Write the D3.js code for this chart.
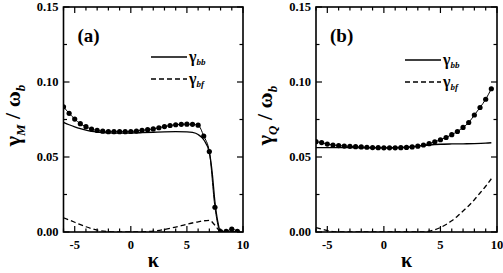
<!DOCTYPE html>
<html>
<head>
<meta charset="utf-8">
<script src="https://cdn.jsdelivr.net/npm/d3@7"></script>
<style>
  body { margin: 0; background: #fff; }
  svg { display: block; }
  svg text { font-family: "Liberation Serif", "Times New Roman", Times, serif; font-weight: bold; }
</style>
</head>
<body>
<svg id="chart" width="503" height="273"></svg>
<script>
// kappa values of the dotted series (step 0.5)
const kappaDots = [-6, -5.5, -5, -4.5, -4, -3.5, -3, -2.5, -2, -1.5, -1, -0.5, 0, 0.5, 1, 1.5,
  2, 2.5, 3, 3.5, 4, 4.5, 5, 5.5, 6, 6.5, 7, 7.5, 8, 8.5, 9, 9.5];

// panel (a): gamma_M / omega_b
const dotsA = [0.0835, 0.0791, 0.0753, 0.0722, 0.0702, 0.0686, 0.0677, 0.0672, 0.0669, 0.0669,
  0.0669, 0.0669, 0.0670, 0.0673, 0.0678, 0.0682, 0.0687, 0.0695, 0.0703, 0.0710, 0.0715,
  0.0718, 0.0719, 0.0718, 0.0712, 0.0640, 0.0536, 0.0165, 0.0003, 0.0005, 0.0020, 0.0005];
const bbKappaA = [-6, -5.5, -5, -4.5, -4, -3.5, -3, -2, -1, 0, 1, 2, 3, 4, 5, 5.5, 6, 6.5, 7, 7.25, 7.5, 7.75, 8, 9.7];
const bbA = [0.0731, 0.0715, 0.0701, 0.0689, 0.0679, 0.0671, 0.0666, 0.0661, 0.0659, 0.0660,
  0.0662, 0.0665, 0.0668, 0.0669, 0.0668, 0.0664, 0.0650, 0.0615, 0.0530, 0.0400, 0.0200,
  0.0070, 0.0002, 0.0];
const bfKappaA = [-6, -5, -4, -3, -2, -1, 0, 1, 2, 3, 4, 5, 6, 7, 7.5, 8, 9.7];
const bfA = [0.0095, 0.0065, 0.0035, 0.0013, 0.0003, 0.0, 0.0, 0.0001, 0.0006, 0.0017, 0.0033,
  0.0052, 0.0068, 0.0078, 0.0045, 0.0003, 0.0];

// panel (b): gamma_Q / omega_b
const dotsB = [0.0602, 0.0596, 0.0586, 0.0580, 0.0576, 0.0573, 0.0571, 0.0569, 0.0567, 0.0565,
  0.0563, 0.0562, 0.0561, 0.0561, 0.0561, 0.0562, 0.0564, 0.0567, 0.0572, 0.0580, 0.0589,
  0.0601, 0.0615, 0.0630, 0.0649, 0.0670, 0.0697, 0.0730, 0.0780, 0.0830, 0.0885, 0.0955];
const bbKappaB = [-6, -3, 0, 2, 3, 4, 5, 6, 7, 8, 9, 9.5];
const bbB = [0.0562, 0.0562, 0.0561, 0.0565, 0.0572, 0.0580, 0.0585, 0.0587, 0.0588, 0.0589, 0.0592, 0.0595];
const bfKappaB = [-6, -5, -4.5, -4, 0, 3.5, 4, 4.5, 5, 5.5, 6, 6.5, 7, 7.5, 8, 8.5, 9, 9.5];
const bfB = [0.0030, 0.0010, 0.0003, 0.0, 0.0, 0.0, 0.0005, 0.0015, 0.0030, 0.0050, 0.0075,
  0.0105, 0.0140, 0.0175, 0.0215, 0.0260, 0.0305, 0.0355];

const xTicks = [-5, 0, 5, 10];
const yTicks = [0.00, 0.05, 0.10, 0.15];

const svg = d3.select("svg#chart");

function panel(opts) {
  const { left, right, top, bottom } = opts;
  const x = d3.scaleLinear().domain([-6, 10]).range([left, right]);
  const y = d3.scaleLinear().domain([0, 0.15]).range([bottom, top]);
  const g = svg.append("g");

  const clipId = "clip-" + opts.tag;
  g.append("clipPath").attr("id", clipId)
    .append("rect").attr("x", left).attr("y", top)
    .attr("width", right - left).attr("height", bottom - top);

  const plot = g.append("g").attr("clip-path", `url(#${clipId})`);
  const line = d3.line().x((d) => x(d[0])).y((d) => y(d[1])).curve(d3.curveMonotoneX);

  // gamma_bb (solid)
  plot.append("path")
    .attr("d", line(opts.bbK.map((k, i) => [k, opts.bb[i]])))
    .attr("fill", "none").attr("stroke", "#000").attr("stroke-width", 1.3);
  // gamma_bf (dashed)
  plot.append("path")
    .attr("d", line(opts.bfK.map((k, i) => [k, opts.bf[i]])))
    .attr("fill", "none").attr("stroke", "#000").attr("stroke-width", 1.3)
    .attr("stroke-dasharray", "5,3");
  // total (dots joined by a thin line)
  const dots = kappaDots.map((k, i) => [k, opts.dots[i]]);
  plot.append("path")
    .attr("d", line(dots))
    .attr("fill", "none").attr("stroke", "#000").attr("stroke-width", 1);
  plot.selectAll("circle").data(dots).join("circle")
    .attr("cx", (d) => x(d[0])).attr("cy", (d) => y(d[1])).attr("r", 2.6)
    .attr("fill", "#000");

  // axes: inward ticks on all four sides
  const minorX = d3.range(-6, 10.01, 1);
  const minorY = d3.range(0, 0.1501, 0.025);
  const tk = g.append("g").attr("stroke", "#000").attr("stroke-width", 1.2);
  minorX.forEach((v) => {
    const len = v % 5 === 0 ? 6 : 3.5;
    tk.append("line").attr("x1", x(v)).attr("x2", x(v)).attr("y1", bottom).attr("y2", bottom - len);
    tk.append("line").attr("x1", x(v)).attr("x2", x(v)).attr("y1", top).attr("y2", top + len);
  });
  minorY.forEach((v, i) => {
    const len = i % 2 === 0 ? 6 : 3.5;
    tk.append("line").attr("x1", left).attr("x2", left + len).attr("y1", y(v)).attr("y2", y(v));
    tk.append("line").attr("x1", right).attr("x2", right - len).attr("y1", y(v)).attr("y2", y(v));
  });
  g.append("rect").attr("x", left).attr("y", top)
    .attr("width", right - left).attr("height", bottom - top)
    .attr("fill", "none").attr("stroke", "#000").attr("stroke-width", 1.6);

  // tick labels
  g.selectAll("text.xt").data(xTicks).join("text").attr("class", "xt")
    .attr("x", (d) => x(d)).attr("y", bottom + 17)
    .attr("text-anchor", "middle").attr("font-size", 12.5)
    .text((d) => d);
  g.selectAll("text.yt").data(yTicks).join("text").attr("class", "yt")
    .attr("x", left - 5).attr("y", (d) => y(d) + 4)
    .attr("text-anchor", "end").attr("font-size", 12.5)
    .text((d) => d.toFixed(2));

  // axis titles
  g.append("text").attr("x", (left + right) / 2).attr("y", 267)
    .attr("text-anchor", "middle").attr("font-size", 20).text("κ");
  const yl = g.append("text")
    .attr("transform", `translate(${left - 44},${(top + bottom) / 2 - 4}) rotate(-90)`)
    .attr("text-anchor", "middle").attr("font-size", 22);
  yl.append("tspan").text("γ");
  yl.append("tspan").attr("font-size", 13).attr("font-style", "italic").attr("dy", 5).text(opts.sub);
  yl.append("tspan").attr("dy", -5).text(" / ω");
  yl.append("tspan").attr("font-size", 13).attr("font-style", "italic").attr("dy", 5).text("b");

  // panel label
  g.append("text").attr("x", left + 14).attr("y", 42)
    .attr("font-size", 19).text(opts.label);

  // legend
  const lg = g.append("g");
  [["bb", null, opts.legY], ["bf", "5,3", opts.legY + 22]].forEach(([s, dash, ly]) => {
    lg.append("line").attr("x1", right - 92).attr("x2", right - 56).attr("y1", ly).attr("y2", ly)
      .attr("stroke", "#000").attr("stroke-width", 1.3).attr("stroke-dasharray", dash);
    const t = lg.append("text").attr("x", right - 54).attr("y", ly + 5).attr("font-size", 16);
    t.append("tspan").text("γ");
    t.append("tspan").attr("font-size", 9).attr("font-style", "italic").attr("dy", 3).text(s);
  });
}

panel({ tag: "a", left: 63.5, right: 243, top: 7, bottom: 232, label: "(a)", sub: "M",
  dots: dotsA, bbK: bbKappaA, bb: bbA, bfK: bfKappaA, bf: bfA, legY: 57 });
panel({ tag: "b", left: 316, right: 497, top: 7, bottom: 232, label: "(b)", sub: "Q",
  dots: dotsB, bbK: bbKappaB, bb: bbB, bfK: bfKappaB, bf: bfB, legY: 60 });
</script>
</body>
</html>
